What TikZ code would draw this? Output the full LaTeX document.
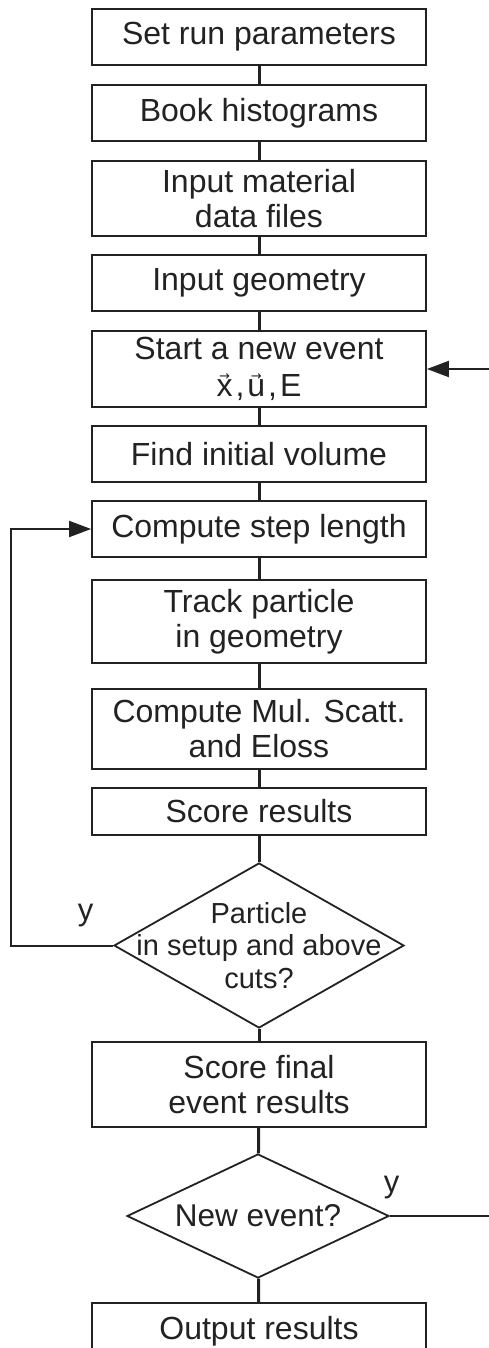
\documentclass[tikz,border=0pt]{standalone}
\usepackage{fontspec}
\setmainfont{Liberation Sans}
\newfontfamily\dejavu{DejaVu Sans}
\usetikzlibrary{shapes.geometric,arrows.meta}
\definecolor{ink}{HTML}{222222}
\newcommand\vecsym[1]{\ooalign{#1\cr\hidewidth\raisebox{16pt}{\fontsize{13}{13}\selectfont\dejavu →}\hidewidth\cr}}
\tikzset{
  box/.style={draw=ink, line width=1.8pt, rectangle, minimum width=334pt, inner sep=0pt, align=center, text=ink, font=\fontsize{32}{35}\selectfont},
  dia/.style={draw=ink, line width=1.8pt, diamond, inner sep=0pt},
  diatext/.style={align=center, text=ink, inner sep=0pt},
  conn/.style={draw=ink, line width=3pt},
  loopline/.style={draw=ink, line width=2pt},
  arr/.style={loopline, -{Triangle[length=22pt,width=16pt]}},
  ylab/.style={text=ink, inner sep=0pt, font=\fontsize{31}{34}\selectfont}
}
\begin{document}
\begin{tikzpicture}[x=1pt,y=-1pt]
\useasboundingbox (0,0) rectangle (489,1348);
\clip (0,0) rectangle (489,1348);
\node[box, minimum height=56pt] (b1) at (259,37) {Set run parameters};
\node[box, minimum height=56pt] (b2) at (259,113) {Book histograms};
\node[box, minimum height=75pt] (b3) at (259,198.5) {Input material\\data files};
\node[box, minimum height=56pt] (b4) at (259,283) {Input geometry};
\node[box, minimum height=76pt] (b5) at (259,369) {Start a new event\\[2pt]\vecsym{x}\hspace{3pt},\hspace{3pt}\vecsym{u}\hspace{3pt},\hspace{3pt}E};
\node[box, minimum height=56pt] (b6) at (259,454) {Find initial volume};
\node[box, minimum height=56pt] (b7) at (259,529) {Compute step length};
\node[box, minimum height=83pt] (b8) at (259,621.5) {Track particle\\in geometry};
\node[box, minimum height=80pt] (b9) at (259,729) {Compute Mul. Scatt.\\and Eloss};
\node[box, minimum height=47pt] (b10) at (259,811.5) {Score results};
\node[dia, minimum width=290pt, minimum height=165pt,
  label={[diatext, font=\fontsize{29}{32.5}\selectfont]center:Particle\\in setup and above\\cuts?}] (d1) at (259,945.5) {};
\node[box, minimum height=85pt] (b11) at (259,1084.5) {Score final\\event results};
\node[dia, minimum width=262pt, minimum height=124pt,
  label={[diatext, font=\fontsize{31.5}{35}\selectfont]center:New event?}] (d2) at (258,1216) {};
\node[box, minimum height=56pt] (b12) at (259,1331) {Output results};

\draw[conn] (b1) -- (b2);
\draw[conn] (b2) -- (b3);
\draw[conn] (b3) -- (b4);
\draw[conn] (b4) -- (b5);
\draw[conn] (b5) -- (b6);
\draw[conn] (b6) -- (b7);
\draw[conn] (b7) -- (b8);
\draw[conn] (b8) -- (b9);
\draw[conn] (b9) -- (b10);
\draw[conn] (b10) -- (d1);
\draw[conn] (d1) -- (b11);
\draw[conn] (b11) -- (d2);
\draw[conn] (d2) -- (b12);

\coordinate (lp) at (11,0);
\draw[arr] (d1.west) -- (d1.west -| lp) |- (b7.west);
\node[ylab] (y1) at (85.5,916) {y};

\coordinate (rout) at (489,1216);
\coordinate (rin) at (489,369);
\draw[loopline] (d2.east) -- (rout);
\draw[arr] (rin) -- (b5.east);
\node[ylab] (y2) at (391.5,1188) {y};
\end{tikzpicture}
\end{document}
